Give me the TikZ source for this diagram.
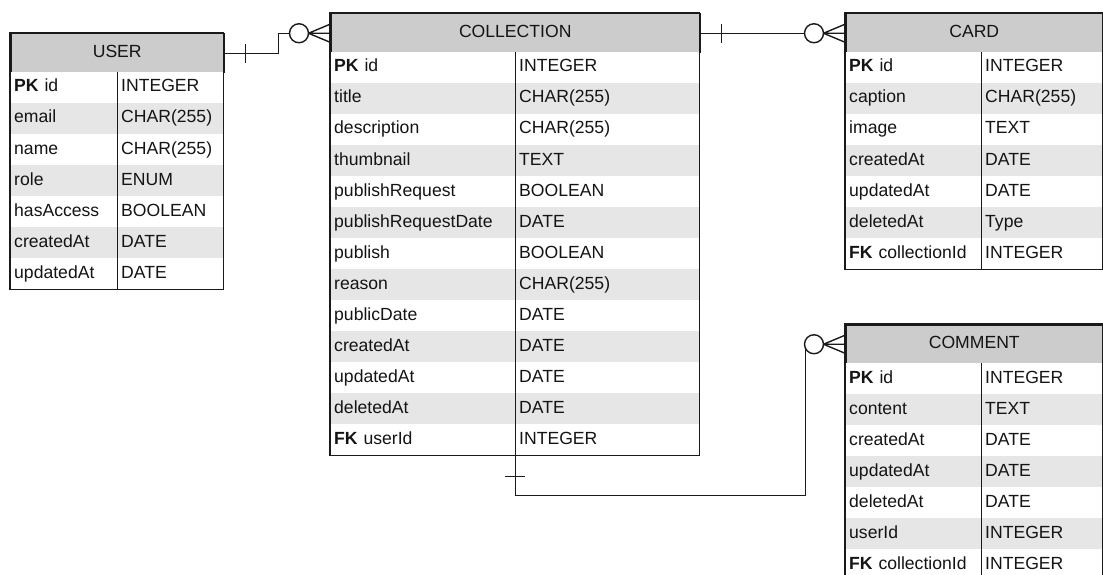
\documentclass[tikz,border=0pt]{standalone}
\usepackage{fontspec}
\setmainfont{Liberation Sans}
\definecolor{hdrgray}{HTML}{CCCCCC}
\definecolor{rowgray}{HTML}{E6E6E6}
\definecolor{linecol}{HTML}{1A1A1A}
\definecolor{txtcol}{HTML}{141414}
\tikzset{
  tbltext/.style={font=\fontsize{17.6}{20}\selectfont, text=txtcol, text height=13pt, text depth=4.4pt, inner ysep=0pt},
  hdr/.style={tbltext, draw=linecol, line width=1.5pt, fill=hdrgray, minimum height=39pt, inner xsep=0pt, anchor=north west},
  cell/.style={tbltext, minimum height=31pt, inner xsep=4pt, anchor=north west, align=left},
  border/.style={draw=linecol, line width=1.5pt},
  conn/.style={draw=linecol, line width=1.4pt},
  zcircle/.style={draw=linecol, line width=1.4pt, fill=white},
}
\newcommand\ertable[7]{%
  \node[hdr, minimum width=#5pt] (#1) at (#3,#4) {#2};
  \pgfmathsetmacro\wn{#6-8}%
  \pgfmathsetmacro\wt{#5-#6-8}%
  \foreach \a/\b [count=\i] in {#7} {%
    \pgfmathsetmacro\yy{#4+39+31*(\i-1)}%
    \ifodd\i\def\rf{white}\else\def\rf{rowgray}\fi
    \node[cell, fill=\rf, text width=\wn pt] (#1-n\i) at (#3,\yy) {\a};
    \node[cell, fill=\rf, text width=\wt pt] (#1-t\i) at (#3+#6,\yy) {\b};
    \xdef\lastrow{\i}%
  }
  \draw[border] (#1.north west) rectangle (#1-t\lastrow.south east);
  \draw[border] (#1-n1.north east) -- (#1-n\lastrow.south east);
}
\newcommand\zeromany[1]{%
  \draw[conn] ([xshift=-21.5pt]#1) -- ([yshift=9pt]#1)
              ([xshift=-21.5pt]#1) -- (#1)
              ([xshift=-21.5pt]#1) -- ([yshift=-9pt]#1);
  \path[zcircle] ([xshift=-31pt]#1) circle (9.5pt);
}
\begin{document}
\begin{tikzpicture}[x=1pt,y=-1pt]
\useasboundingbox (0,0) rectangle (1103,575);
\clip (0,0) rectangle (1103,575);

\ertable{user}{USER}{10}{33}{213}{107}{%
  {\textbf{PK} id}/INTEGER, email/CHAR(255), name/CHAR(255), role/ENUM,
  hasAccess/BOOLEAN, createdAt/DATE, updatedAt/DATE}

\ertable{coll}{COLLECTION}{330}{13}{369}{185}{%
  {\textbf{PK} id}/INTEGER, title/CHAR(255), description/CHAR(255),
  thumbnail/TEXT, publishRequest/BOOLEAN, publishRequestDate/DATE,
  publish/BOOLEAN, reason/CHAR(255), publicDate/DATE, createdAt/DATE,
  updatedAt/DATE, deletedAt/DATE, {\textbf{FK} userId}/INTEGER}

\ertable{card}{CARD}{845}{13}{257}{136}{%
  {\textbf{PK} id}/INTEGER, caption/CHAR(255), image/TEXT, createdAt/DATE,
  updatedAt/DATE, deletedAt/Type, {\textbf{FK} collectionId}/INTEGER}

\ertable{comment}{COMMENT}{845}{324}{257}{136}{%
  {\textbf{PK} id}/INTEGER, content/TEXT, createdAt/DATE, updatedAt/DATE,
  deletedAt/DATE, userId/INTEGER, {\textbf{FK} collectionId}/INTEGER}

% USER -> COLLECTION
\draw[conn] (user.east) -- ([xshift=54pt]user.east) |- (coll.west);
\draw[conn] ([xshift=21pt,yshift=9.5pt]user.east) -- ([xshift=21pt,yshift=-9.5pt]user.east);
\zeromany{coll.west}

% COLLECTION -> CARD
\draw[conn] (coll.east) -- (card.west);
\draw[conn] ([xshift=21pt,yshift=9.5pt]coll.east) -- ([xshift=21pt,yshift=-9.5pt]coll.east);
\zeromany{card.west}

% COLLECTION -> COMMENT
\draw[conn] (coll-n13.south east) -- ([yshift=-40pt]coll-n13.south east)
  -| ([xshift=-39.5pt]comment.west) -- (comment.west);
\draw[conn] ([xshift=-10pt,yshift=-21pt]coll-n13.south east) -- ([xshift=10pt,yshift=-21pt]coll-n13.south east);
\zeromany{comment.west}
\end{tikzpicture}
\end{document}
